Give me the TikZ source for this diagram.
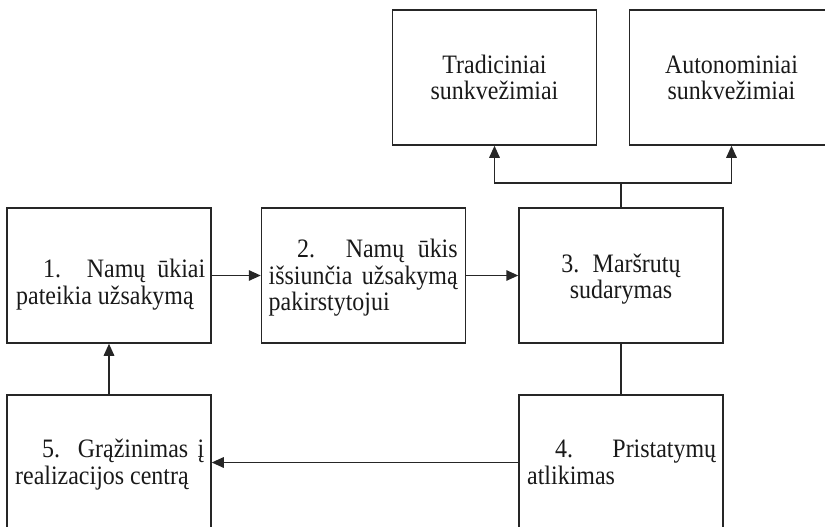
\documentclass[tikz,border=0pt]{standalone}
\usepackage{fontspec}
\setmainfont{Liberation Serif}[FakeStretch=0.9]
\usetikzlibrary{arrows.meta}
\begin{document}
\begin{tikzpicture}[x=1pt,y=-1pt,
  box/.style={draw=black!85, line width=1.5pt, minimum width=204pt, minimum height=135pt, inner sep=0pt},
  jtext/.style={text=black!90, text width=189pt, align=justify, inner sep=0pt, anchor=base west,
    font=\fontsize{26.6}{26.8}\selectfont,
    execute at begin node={\tolerance=10000\hyphenpenalty=10000\hbadness=10000}},
  ctext/.style={text=black!90, text width=189pt, align=center, inner sep=0pt, anchor=base,
    font=\fontsize{26.6}{26.5}\selectfont},
  arr/.style={draw=black!85, line width=1.5pt, -{Triangle[length=12pt,width=10.5pt]}},
  ln/.style={draw=black!85, line width=1.5pt}]
\useasboundingbox (0,0) rectangle (825,527);
\clip (0,0) rectangle (825,527);
% boxes
\node[box] (b1) at (109,275.5) {};
\node[box] (b2) at (363.5,275.5) {};
\node[box] (b3) at (621,275.5) {};
\node[box] (tr) at (494.5,77.5) {};
\node[box] (au) at (731.5,77.5) {};
\node[box] (b5) at (109,462.5) {};
\node[box] (b4) at (621,462.5) {};
% texts
\node[ctext] (ttr) at (494.5,73.3) {Tradiciniai\\sunkvežimiai};
\node[ctext] (tau) at (731.5,73.3) {Autonominiai\\sunkvežimiai};
\node[jtext] (t1) at (16,277.3) {\hspace*{27pt}1. Namų ūkiai\linebreak pateikia užsakymą};
\node[jtext] (t2) at (268.5,257.3) {\hspace*{28.5pt}2. Namų ūkis\linebreak išsiunčia užsakymą\linebreak pakirstytojui};
\node[ctext] (t3) at (621,272.3) {3. Maršrutų\\sudarymas};
\node[jtext] (t5) at (15,457.3) {\hspace*{27pt}5. Grąžinimas į\linebreak realizacijos centrą};
\node[jtext] (t4) at (527,457.3) {\hspace*{28pt}4. Pristatymų\linebreak atlikimas};
% connectors
\coordinate (j) at (621,183);
\draw[arr] (b1.east) -- (b2.west);
\draw[arr] (b2.east) -- (b3.west);
\draw[ln] (b3.north) -- (j);
\draw[arr] (j) -| (tr.south);
\draw[arr] (j) -| (au.south);
\draw[ln] (b3.south) -- (b4.north);
\draw[arr] (b4.west) -- (b5.east);
\draw[arr] (b5.north) -- (b1.south);
\end{tikzpicture}
\end{document}
